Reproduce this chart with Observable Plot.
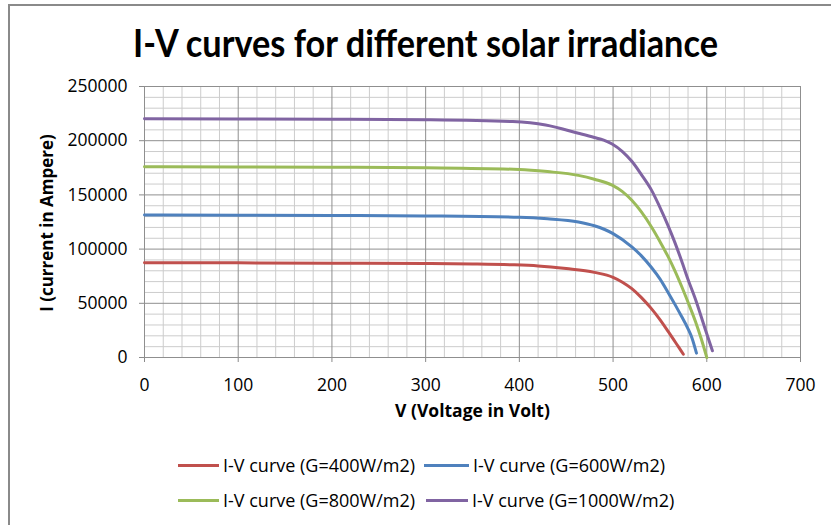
<!DOCTYPE html>
<html>
<head>
<meta charset="utf-8">
<script src="https://cdn.jsdelivr.net/npm/d3@7"></script>
<script src="https://cdn.jsdelivr.net/npm/@observablehq/plot@0.6"></script>
<style>
  html, body { margin: 0; padding: 0; background: #fff; }
  #chart { position: relative; width: 831px; height: 525px; overflow: hidden; background: #fff; }
  #frame { position: absolute; left: 8px; top: 4px; right: -10px; bottom: -10px;
           border-left: 2px solid #8a8a8a; border-top: 2px solid #8a8a8a; }
  #plot, #title { position: absolute; left: 0; top: 0; }
  #plot [aria-label$="axis tick"] { stroke: #8a8a8a; }
  .leg { position: absolute; font-family: "Open Sans", sans-serif; font-size: 18px; color: #000;
         line-height: 20px; white-space: nowrap; }
  .sw { position: absolute; height: 3px; }
</style>
</head>
<body>
<div id="chart">
  <div id="frame"></div>
  <div id="plot"></div>
  <div id="title"></div>
  <div id="legend"></div>
</div>
<script>
// ---- data ----
const titleText = "I-V curves for different solar irradiance";
const xLabel = "V (Voltage in Volt)";
const yLabel = "I (current in Ampere)";
const seriesNames = [
  "I-V curve (G=400W/m2)",
  "I-V curve (G=600W/m2)",
  "I-V curve (G=800W/m2)",
  "I-V curve (G=1000W/m2)"
];
const seriesColors = ["#C0504D", "#4F81BD", "#9BBB59", "#8064A2"];
const xTicks = [0, 100, 200, 300, 400, 500, 600, 700];
const yTicks = [0, 50000, 100000, 150000, 200000, 250000];

const V400 = [0, 100, 200, 300, 350, 390, 420, 450, 480, 500, 510, 520, 530, 540, 550, 560, 570, 575];
const I400 = [87500, 87300, 87000, 86700, 86300, 85600, 84500, 82000, 78500, 74000, 69500, 63500, 55500, 46000, 35000, 22500, 9500, 3000];

const V600 = [0, 100, 200, 300, 400, 430, 463, 480, 500, 520, 530, 541, 550, 559, 566, 573, 580, 584, 589];
const I600 = [131500, 131300, 131000, 130600, 129400, 128000, 125000, 121500, 114300, 102000, 94000, 83000, 72500, 59500, 49000, 38000, 26500, 18500, 4000];

const V800 = [0, 100, 200, 300, 400, 430, 463, 480, 499, 510, 520, 530, 541, 550, 559, 566, 573, 580, 588, 594, 600];
const I800 = [176000, 175800, 175500, 175000, 173500, 171500, 168000, 164500, 159000, 153000, 145000, 134500, 120400, 107000, 92600, 80000, 66000, 51000, 33000, 17500, 0];

const V1000 = [0, 100, 200, 300, 393, 428, 463, 480, 490, 499, 510, 520, 530, 541, 550, 559, 566, 573, 580, 588, 598, 606];
const I1000 = [220300, 220000, 219800, 219300, 217600, 214500, 206900, 203000, 200500, 197000, 190000, 181000, 169000, 154400, 138500, 121000, 106000, 89500, 72000, 53500, 27000, 6200];

// ---- build table ----
const seriesV = [V400, V600, V800, V1000];
const seriesI = [I400, I600, I800, I1000];
const rows = [];
seriesNames.forEach((name, k) => {
  seriesV[k].forEach((v, i) => rows.push({series: name, V: v, I: seriesI[k][i]}));
});

const minorX = d3.range(0, 701, 20).filter(d => d % 100 !== 0);
const minorY = d3.range(0, 250001, 10000).filter(d => d % 50000 !== 0);

const plot = Plot.plot({
  width: 831,
  height: 440,
  marginLeft: 144,
  marginRight: 31,
  marginTop: 86,
  marginBottom: 83,
  style: {fontFamily: "'Open Sans', sans-serif", fontSize: "17.5px", color: "#000", background: "transparent", overflow: "visible"},
  x: {domain: [0, 700], ticks: xTicks, tickSize: 5, tickPadding: 16, tickFormat: d => String(d), label: null},
  y: {domain: [0, 250000], ticks: yTicks, tickSize: 5, tickPadding: 12, tickFormat: d => String(d), label: null},
  color: {domain: seriesNames, range: seriesColors},
  marks: [
    Plot.ruleX(minorX, {stroke: "#cccccc", strokeWidth: 1}),
    Plot.ruleY(minorY, {stroke: "#cccccc", strokeWidth: 1}),
    Plot.ruleX(xTicks, {stroke: "#8f8f8f", strokeWidth: 1}),
    Plot.ruleY(yTicks, {stroke: "#8f8f8f", strokeWidth: 1}),
    Plot.line(rows, {x: "V", y: "I", z: "series", stroke: "series", strokeWidth: 3, curve: "monotone-x"}),
    Plot.text([xLabel], {frameAnchor: "bottom", lineAnchor: "middle", dy: 54, text: d => d, fontWeight: "bold", fontSize: 17.5}),
    Plot.text([yLabel], {frameAnchor: "left", textAnchor: "middle", lineAnchor: "middle", dx: -97, dy: 1, rotate: -90, text: d => d, fontWeight: "bold", fontSize: 17})
  ]
});
document.getElementById("plot").appendChild(plot);

// ---- title ----
const tsvg = d3.select("#title").append("svg").attr("width", 831).attr("height", 75);
tsvg.append("text")
  .attr("x", 425.5).attr("y", 57)
  .attr("text-anchor", "middle")
  .attr("textLength", 585).attr("lengthAdjust", "spacingAndGlyphs")
  .attr("font-family", "Lato, 'Open Sans', sans-serif")
  .attr("font-weight", "bold").attr("font-size", 38)
  .text(titleText);

// ---- legend ----
const legendPos = [
  {sx: 178, tx: 223, y: 465},
  {sx: 424, tx: 473, y: 465},
  {sx: 178, tx: 223, y: 500},
  {sx: 426, tx: 472, y: 500}
];
const leg = d3.select("#legend");
seriesNames.forEach((name, k) => {
  const p = legendPos[k];
  leg.append("div").attr("class", "sw")
    .style("left", p.sx + "px").style("top", (p.y - 1.5) + "px")
    .style("width", (p.tx - p.sx - 4) + "px")
    .style("background", seriesColors[k]);
  leg.append("div").attr("class", "leg")
    .style("left", p.tx + "px").style("top", (p.y - 10.5) + "px")
    .text(name);
});
</script>
</body>
</html>
